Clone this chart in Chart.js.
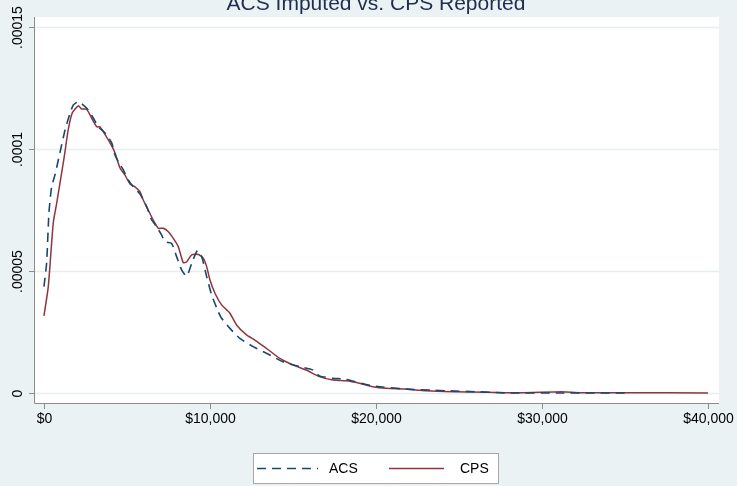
<!DOCTYPE html>
<html>
<head>
<meta charset="utf-8">
<script src="https://cdn.jsdelivr.net/npm/chart.js@4"></script>
<style>
  html, body { margin: 0; padding: 0; background: #eaf2f3; }
</style>
</head>
<body>
<canvas id="chart" width="737" height="486"></canvas>
<script>
const chartTitle = 'ACS Imputed vs. CPS Reported';
const xTicks = [0, 10000, 20000, 30000, 40000];
const xTickLabels = ['$0', '$10,000', '$20,000', '$30,000', '$40,000'];
const yTicks = [0, 0.00005, 0.0001, 0.00015];
const yTickLabels = ['0', '.00005', '.0001', '.00015'];
const seriesNames = ['ACS', 'CPS'];

const acsIncome = [0, 160, 300, 460, 660, 960, 1270, 1570, 1770, 2070,
  2370, 2670, 2970, 3270, 3680, 4080, 4280, 4480, 4780, 5080,
  5380, 5780, 6190, 6490, 6790, 7090, 7290, 7690, 7990, 8300,
  8600, 8900, 9240, 9500, 9800, 10100, 10500, 10700, 11200, 11800,
  12600, 13400, 14400, 15400, 16200, 16600, 17400, 18100, 19000, 19800,
  22000, 23300, 24300, 26100, 28100, 31200, 35000];
const acsDensity = [4.36e-5, 5.33e-5, 7.38e-5, 8.45e-5, 8.93e-5, 9.84e-5, 10.78e-5, 11.47e-5, 11.80e-5, 11.94e-5,
  11.80e-5, 11.60e-5, 11.27e-5, 10.91e-5, 10.66e-5, 10.25e-5, 9.75e-5, 9.48e-5, 9.14e-5, 8.73e-5,
  8.45e-5, 8.16e-5, 7.63e-5, 7.09e-5, 6.81e-5, 6.47e-5, 6.20e-5, 6.13e-5, 5.59e-5, 5.04e-5,
  4.79e-5, 5.32e-5, 5.83e-5, 5.59e-5, 4.77e-5, 4.02e-5, 3.33e-5, 3.06e-5, 2.65e-5, 2.24e-5,
  1.90e-5, 1.63e-5, 1.28e-5, 1.08e-5, 0.94e-5, 0.70e-5, 0.60e-5, 0.57e-5, 0.42e-5, 0.29e-5,
  0.15e-5, 0.12e-5, 0.09e-5, 0.05e-5, 0, 0, 0];

const cpsIncome = [0, 260, 560, 770, 1220, 1460, 1700, 2070, 2270, 2570,
  2870, 3180, 3370, 3570, 3980, 4280, 4580, 4880, 5180, 5480,
  5780, 5980, 6280, 6580, 6890, 7190, 7490, 7790, 8090, 8390,
  8600, 8900, 9300, 9600, 9800, 10000, 10300, 10700, 11200, 11600,
  12200, 12700, 13400, 14200, 15000, 15800, 16600, 17400, 18200, 19000,
  19800, 20600, 21800, 23000, 24600, 26700, 28700, 31200, 32300, 35000,
  40000];
const cpsDensity = [3.16e-5, 4.36e-5, 6.97e-5, 7.79e-5, 9.68e-5, 10.78e-5, 11.47e-5, 11.77e-5, 11.64e-5, 11.63e-5,
  11.27e-5, 10.91e-5, 10.91e-5, 10.71e-5, 10.25e-5, 9.84e-5, 9.22e-5, 8.93e-5, 8.57e-5, 8.45e-5,
  8.25e-5, 7.91e-5, 7.50e-5, 7.09e-5, 6.75e-5, 6.75e-5, 6.61e-5, 6.34e-5, 6.00e-5, 5.34e-5,
  5.38e-5, 5.66e-5, 5.68e-5, 5.52e-5, 5.18e-5, 4.63e-5, 4.09e-5, 3.61e-5, 3.27e-5, 2.79e-5,
  2.38e-5, 2.17e-5, 1.83e-5, 1.42e-5, 1.15e-5, 0.94e-5, 0.67e-5, 0.53e-5, 0.50e-5, 0.40e-5,
  0.26e-5, 0.19e-5, 0.16e-5, 0.09e-5, 0.05e-5, 0.03e-5, 0.01e-5, 0.05e-5, 0.01e-5, 0.01e-5,
  0];

const BG = '#eaf2f3';
const NAVY = '#1a476f';
const MAROON = '#90353b';
const AXIS = '#8c8c8c';
const FONT = '"Liberation Sans", Arial, sans-serif';

const toPoints = (xs, ys) => xs.map((x, i) => ({ x: x, y: ys[i] }));

// stata-like frame: background, white plot region, grid, axes, legend
const stataFrame = {
  id: 'stataFrame',
  beforeDraw(chart) {
    const { ctx, chartArea: a, width, height } = chart;
    ctx.save();
    ctx.fillStyle = BG;
    ctx.fillRect(0, 0, width, height);
    ctx.fillStyle = '#ffffff';
    ctx.fillRect(a.left, a.top, a.right - a.left, a.bottom - a.top);
    const y = chart.scales.y;
    ctx.strokeStyle = '#e6eef0';
    ctx.lineWidth = 1.5;
    yTicks.forEach(v => {
      const py = Math.round(y.getPixelForValue(v)) + 0.5;
      ctx.beginPath();
      ctx.moveTo(a.left, py);
      ctx.lineTo(a.right, py);
      ctx.stroke();
    });
    ctx.restore();
  },
  afterDraw(chart) {
    const { ctx, chartArea: a } = chart;
    const x = chart.scales.x, y = chart.scales.y;
    ctx.save();
    ctx.strokeStyle = AXIS;
    ctx.lineWidth = 1;
    // axis lines
    ctx.beginPath();
    ctx.moveTo(a.left - 0.5, a.top);
    ctx.lineTo(a.left - 0.5, a.bottom + 0.5);
    ctx.lineTo(a.right, a.bottom + 0.5);
    ctx.stroke();

    ctx.fillStyle = '#000000';
    ctx.font = '14px ' + FONT;
    // y ticks and rotated labels
    yTicks.forEach((v, i) => {
      const py = Math.round(y.getPixelForValue(v)) + 0.5;
      ctx.beginPath();
      ctx.moveTo(a.left - 6, py);
      ctx.lineTo(a.left - 0.5, py);
      ctx.stroke();
      ctx.save();
      ctx.translate(18, py);
      ctx.rotate(-Math.PI / 2);
      ctx.textAlign = 'center';
      ctx.textBaseline = 'middle';
      ctx.fillText(yTickLabels[i], 0, 0);
      ctx.restore();
    });
    // x ticks and labels
    xTicks.forEach((v, i) => {
      const px = Math.round(x.getPixelForValue(v)) + 0.5;
      ctx.beginPath();
      ctx.moveTo(px, a.bottom + 0.5);
      ctx.lineTo(px, a.bottom + 6);
      ctx.stroke();
      ctx.textAlign = 'center';
      ctx.textBaseline = 'middle';
      ctx.fillText(xTickLabels[i], px, 419);
    });

    // title
    ctx.fillStyle = '#1e2d50';
    ctx.font = '21px ' + FONT;
    ctx.textAlign = 'center';
    ctx.textBaseline = 'alphabetic';
    ctx.fillText(chartTitle, (a.left + a.right) / 2 - 1, 10);

    // legend
    ctx.fillStyle = '#ffffff';
    ctx.fillRect(253, 453, 246, 31);
    ctx.strokeStyle = '#a6a6a6';
    ctx.strokeRect(253.5, 453.5, 245, 30);
    ctx.lineWidth = 1.6;
    ctx.strokeStyle = NAVY;
    ctx.setLineDash([9, 6]);
    ctx.beginPath();
    ctx.moveTo(257, 468.5);
    ctx.lineTo(318, 468.5);
    ctx.stroke();
    ctx.setLineDash([]);
    ctx.strokeStyle = MAROON;
    ctx.beginPath();
    ctx.moveTo(389, 468.5);
    ctx.lineTo(444, 468.5);
    ctx.stroke();
    ctx.fillStyle = '#000000';
    ctx.font = '14px ' + FONT;
    ctx.textAlign = 'left';
    ctx.textBaseline = 'middle';
    ctx.fillText(seriesNames[0], 329, 469);
    ctx.fillText(seriesNames[1], 460, 469);
    ctx.restore();
  }
};

new Chart(document.getElementById('chart'), {
  type: 'scatter',
  data: {
    datasets: [
      {
        label: seriesNames[0],
        data: toPoints(acsIncome, acsDensity),
        showLine: true,
        borderColor: NAVY,
        borderWidth: 1.6,
        borderDash: [9, 6],
        pointRadius: 0,
        tension: 0.2
      },
      {
        label: seriesNames[1],
        data: toPoints(cpsIncome, cpsDensity),
        showLine: true,
        borderColor: MAROON,
        borderWidth: 1.5,
        pointRadius: 0,
        tension: 0.2
      }
    ]
  },
  options: {
    responsive: false,
    animation: false,
    devicePixelRatio: 1,
    layout: { padding: { left: 35, top: 17, right: 18, bottom: 83 } },
    plugins: {
      legend: { display: false },
      tooltip: { enabled: false }
    },
    scales: {
      x: { type: 'linear', display: false, min: -540, max: 40660 },
      y: { type: 'linear', display: false, min: -0.0000041, max: 0.0001541 }
    }
  },
  plugins: [stataFrame]
});
</script>
</body>
</html>
